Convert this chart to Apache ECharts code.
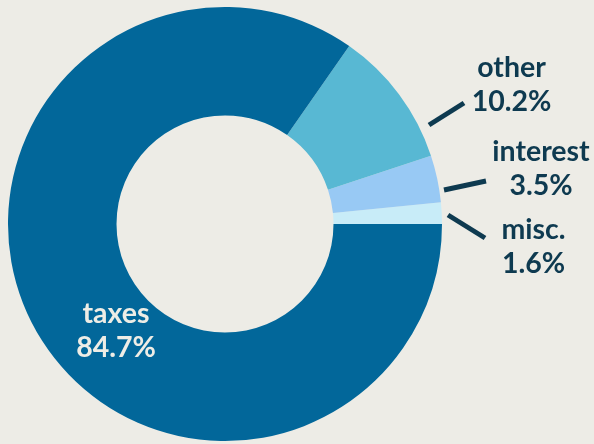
<!DOCTYPE html>
<html>
<head>
<meta charset="utf-8">
<style>
  html, body { margin: 0; padding: 0; background: #edece6; }
  #chart { width: 594px; height: 444px; }
</style>
<script src="https://cdn.jsdelivr.net/npm/echarts@6/dist/echarts.min.js"></script>
</head>
<body>
<div id="chart"></div>
<script>
// Data
const categories = ['misc.', 'interest', 'other', 'taxes'];
const values = [1.6, 3.5, 10.2, 84.7];

// Styling / placement (not data)
const colors = {
  'misc.': '#c8ecf8',
  'interest': '#98c9f4',
  'other': '#58b8d3',
  'taxes': '#02679a'
};
const darkText = '#0e3a50';
const lightText = '#eeede6';
const placement = {
  'other':    { x: 511.5, y: 85,  line: [[429, 125], [464, 103]] },
  'interest': { x: 541,   y: 169, line: [[444, 190], [486, 181]] },
  'misc.':    { x: 533.5, y: 247, line: [[448, 215], [485, 238]] },
  'taxes':    { x: 116,   y: 331 }
};

const chart = echarts.init(document.getElementById('chart'), null, { renderer: 'canvas' });

const seriesData = categories.map((name, i) => {
  const inside = name === 'taxes';
  return {
    name: name,
    value: values[i],
    itemStyle: { color: colors[name] },
    label: {
      position: inside ? 'inside' : 'outside',
      color: inside ? lightText : darkText
    },
    labelLine: { show: !inside }
  };
});

chart.setOption({
  backgroundColor: '#edece6',
  animation: false,
  series: [{
    type: 'pie',
    center: [225, 224],
    radius: [108.5, 217],
    startAngle: 0,
    clockwise: false,
    avoidLabelOverlap: false,
    data: seriesData,
    label: {
      show: true,
      fontFamily: 'Lato',
      fontWeight: 'bold',
      fontSize: 28.5,
      lineHeight: 34,
      align: 'center',
      formatter: p => p.name + '\n' + p.value.toFixed(1) + '%'
    },
    labelLine: {
      show: true,
      length: 10,
      length2: 10,
      lineStyle: { color: darkText, width: 5, cap: 'butt' }
    },
    labelLayout: function (params) {
      const name = categories[params.dataIndex];
      const pl = placement[name];
      const out = { x: pl.x, y: pl.y, align: 'center', verticalAlign: 'middle' };
      if (pl.line) {
        const a = pl.line[0], b = pl.line[1];
        out.labelLinePoints = [a, [(a[0] + b[0]) / 2, (a[1] + b[1]) / 2], b];
      }
      return out;
    }
  }]
});
</script>
</body>
</html>
